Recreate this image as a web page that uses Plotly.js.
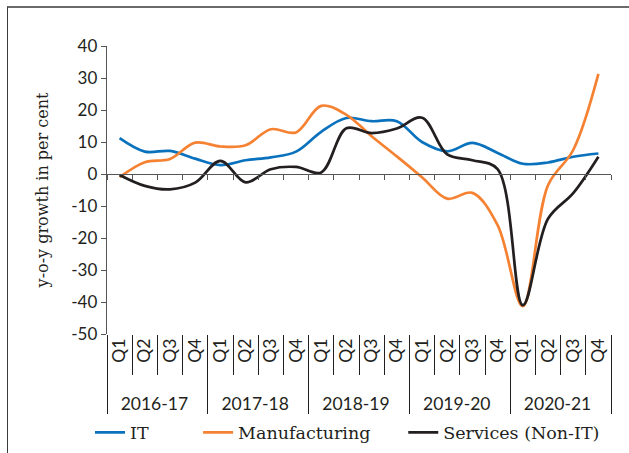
<!DOCTYPE html>
<html>
<head>
<meta charset="utf-8">
<script src="https://cdn.plot.ly/plotly-3.0.1.min.js"></script>
<style>
  html, body { margin: 0; padding: 0; background: #fff; }
  #wrap { position: relative; width: 629px; height: 453px; overflow: hidden; }
  #chart { width: 629px; height: 453px; }
  #frame { position: absolute; left: 7px; top: 6px; width: 700px; height: 600px;
           border-top: 2px solid #6a6a6a; border-left: 1.5px solid #3a3a3a; pointer-events: none; }
</style>
</head>
<body>
<div id="wrap">
  <div id="chart"></div>
  <div id="frame"></div>
</div>
<script>
// ---- data ----
const years = ['2016-17', '2017-18', '2018-19', '2019-20', '2020-21'];
const quarters = ['Q1', 'Q2', 'Q3', 'Q4'];

const itGrowth = [11.2, 7.0, 7.2, 4.8, 2.8, 4.3, 5.2, 7.0, 13.2, 17.5, 16.5, 16.5, 10.0, 7.1, 9.7, 6.6, 3.2, 3.6, 5.4, 6.4];
const manufacturingGrowth = [-1.0, 3.7, 4.7, 9.8, 8.6, 9.0, 14.0, 13.0, 21.3, 18.5, 11.8, 5.5, -1.0, -7.7, -5.9, -16.0, -41.3, -3.5, 7.5, 31.3];
const servicesGrowth = [-0.3, -3.7, -4.8, -2.7, 4.1, -2.6, 1.5, 2.2, 0.5, 14.3, 12.8, 14.2, 17.6, 6.1, 4.3, 1.5, -41.0, -14.0, -6.0, 5.4];

const yTickVals = [40, 30, 20, 10, 0, -10, -20, -30, -40, -50];
const yTickText = ['40', '30', '20', '10', '0', '-10', '-20', '-30', '-40', '-50'];

const seriesNames = ['IT', 'Manufacturing', 'Services (Non-IT)'];
const seriesColors = ['#0a72bd', '#f58232', '#231f20'];

// ---- build multicategory x ----
const NB = '\u00a0';
const pad = n => NB.repeat(n);
const xYear = [], xQuarter = [];
years.forEach(y => quarters.forEach(q => { xYear.push(y); xQuarter.push(pad(3) + q); }));
const xMulti = [xYear, xQuarter];
const xRange = [-0.5, xYear.length - 0.5];

const txtColor = '#231f20';
const serif = '"DejaVu Serif", serif';
const sans = 'Lato, "Open Sans", sans-serif';

const legendPad = [8, 5, 0];
const allSeries = [itGrowth, manufacturingGrowth, servicesGrowth];
const traces = allSeries.map((vals, i) => ({
  type: 'scatter', mode: 'lines', name: seriesNames[i] + pad(legendPad[i]),
  x: xMulti, y: vals, xaxis: 'x', yaxis: 'y',
  line: { color: seriesColors[i], width: 2.7, shape: 'spline', smoothing: 1 },
  hoverinfo: 'skip'
}));

// invisible helper trace so the zero-crossing axis (x2) gets the same categories
traces.push({
  type: 'scatter', mode: 'lines', x: xMulti, y: itGrowth, xaxis: 'x2', yaxis: 'y',
  line: { color: 'rgba(0,0,0,0)', width: 0 }, opacity: 0, showlegend: false, hoverinfo: 'skip'
});

const layout = {
  width: 629, height: 453,
  margin: { l: 107, r: 18, t: 46, b: 119, pad: 0, autoexpand: false },
  paper_bgcolor: '#ffffff', plot_bgcolor: '#ffffff',
  showlegend: true,
  legend: {
    orientation: 'h', x: (90 - 107) / 504, xanchor: 'left', y: -0.342, yanchor: 'middle',
    font: { family: serif, size: 17.5, color: txtColor },
    itemwidth: 30, tracegroupgap: 0
  },
  xaxis: {
    type: 'multicategory', range: xRange,
    showline: false, showgrid: false, zeroline: false,
    ticks: 'outside', ticklen: 40, tickwidth: 1, tickcolor: txtColor,
    tickangle: -90,
    showdividers: true, dividercolor: txtColor, dividerwidth: 1,
    tickfont: { family: sans, size: 17.5, color: txtColor },
    fixedrange: true
  },
  xaxis2: {
    type: 'multicategory', overlaying: 'x', anchor: 'free', position: 50 / 90, range: xRange,
    showline: true, linecolor: '#555555', linewidth: 1.3,
    ticks: 'outside', ticklen: 5, tickwidth: 1, tickcolor: '#555555',
    showticklabels: false, showdividers: false, showgrid: false, zeroline: false,
    fixedrange: true
  },
  yaxis: {
    range: [-50, 40], tickvals: yTickVals, ticktext: yTickText,
    showline: true, linecolor: '#555555', linewidth: 1.3,
    ticks: 'outside', ticklen: 5, tickwidth: 1, tickcolor: '#555555',
    showgrid: false, zeroline: false,
    tickfont: { family: sans, size: 17, color: txtColor },
    title: { text: 'y-o-y growth in per cent', font: { family: serif, size: 16, color: txtColor }, standoff: 18 },
    automargin: false, fixedrange: true
  }
};

Plotly.newPlot('chart', traces, layout, { displayModeBar: false, staticPlot: true });
</script>
</body>
</html>
